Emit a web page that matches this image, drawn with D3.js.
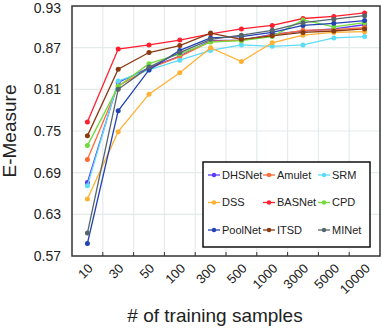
<!DOCTYPE html>
<html>
<head>
<meta charset="utf-8">
<script src="https://cdn.jsdelivr.net/npm/d3@7"></script>
<style>
  body { margin: 0; background: #fff; }
  text { font-family: "Liberation Sans", Arial, sans-serif; fill: #222; }
</style>
</head>
<body>
<div id="chart"></div>
<script>
// data
const samples = ["10", "30", "50", "100", "300", "500", "1000", "3000", "5000", "10000"]
const yTicks = [0.57, 0.63, 0.69, 0.75, 0.81, 0.87, 0.93]
const methods = ["DHSNet", "Amulet", "SRM", "DSS", "BASNet", "CPD", "PoolNet", "ITSD", "MINet"]
const colors = ["#5a3cf5", "#ff6a35", "#5cdcf8", "#ffb133", "#ff1f2e", "#6fdc3a", "#2442b4", "#8a3a12", "#55666d"]

const DHSNet  = [0.676, 0.820, 0.841, 0.858, 0.880, 0.881, 0.889, 0.894, 0.897, 0.903]
const Amulet  = [0.709, 0.815, 0.840, 0.857, 0.879, 0.881, 0.888, 0.895, 0.896, 0.899]
const SRM     = [0.671, 0.822, 0.838, 0.852, 0.866, 0.874, 0.872, 0.874, 0.884, 0.886]
const DSS     = [0.652, 0.749, 0.803, 0.834, 0.870, 0.850, 0.877, 0.888, 0.892, 0.893]
const BASNet  = [0.763, 0.868, 0.874, 0.881, 0.890, 0.897, 0.902, 0.912, 0.915, 0.920]
const CPD     = [0.729, 0.814, 0.847, 0.861, 0.878, 0.880, 0.886, 0.910, 0.900, 0.906]
const PoolNet = [0.588, 0.779, 0.838, 0.866, 0.884, 0.886, 0.892, 0.902, 0.905, 0.909]
const ITSD    = [0.743, 0.839, 0.863, 0.873, 0.891, 0.882, 0.887, 0.892, 0.894, 0.897]
const MINet   = [0.603, 0.810, 0.842, 0.863, 0.882, 0.888, 0.895, 0.906, 0.911, 0.916]
const series = [DHSNet, Amulet, SRM, DSS, BASNet, CPD, PoolNet, ITSD, MINet]

const W = 382, H = 332
const plot = { left: 72, right: 380, top: 6, bottom: 256 }

const svg = d3.select("#chart").append("svg")
  .attr("width", W).attr("height", H)

const x = d3.scaleBand().domain(samples).range([plot.left, plot.right]).padding(0)
const y = d3.scaleLinear().domain([0.57, 0.93]).range([plot.bottom, plot.top])
const cx = d => x(d) + x.bandwidth() / 2

// grid
svg.append("g").selectAll("line")
  .data(yTicks.slice(1, -1))
  .enter().append("line")
    .attr("x1", plot.left).attr("x2", plot.right)
    .attr("y1", d => y(d)).attr("y2", d => y(d))
    .style("stroke", "#e4ebeb").style("stroke-width", 1.2)

svg.append("g").selectAll("line")
  .data(samples.slice(1))
  .enter().append("line")
    .attr("x1", d => x(d)).attr("x2", d => x(d))
    .attr("y1", plot.top).attr("y2", plot.bottom)
    .style("stroke", "#e4ebeb").style("stroke-width", 1.2)

// x ticks (inside, at band edges)
svg.append("g").selectAll("line")
  .data(samples.slice(1))
  .enter().append("line")
    .attr("x1", d => x(d)).attr("x2", d => x(d))
    .attr("y1", plot.bottom - 4).attr("y2", plot.bottom)
    .style("stroke", "#333").style("stroke-width", 1)

// lines + markers
const line = d3.line().x((d, i) => cx(samples[i])).y(d => y(d))
series.forEach(function(vals, k) {
  const g = svg.append("g").attr("class", "series")
  g.append("path")
    .datum(vals)
    .attr("d", line)
    .style("fill", "none")
    .style("stroke", colors[k])
    .style("stroke-width", 1.3)
  g.selectAll("circle")
    .data(vals)
    .enter().append("circle")
      .attr("cx", (d, i) => cx(samples[i]))
      .attr("cy", d => y(d))
      .attr("r", 2.5)
      .style("fill", colors[k])
})

// frame
svg.append("rect")
  .attr("x", plot.left).attr("y", plot.top)
  .attr("width", plot.right - plot.left).attr("height", plot.bottom - plot.top)
  .style("fill", "none").style("stroke", "#333").style("stroke-width", 1.5)

// y tick labels
svg.append("g").selectAll("text")
  .data(yTicks)
  .enter().append("text")
    .attr("x", 61).attr("y", d => Math.max(y(d), 7.5))
    .attr("dy", "0.36em")
    .style("text-anchor", "end")
    .style("font-size", "14px")
    .text(d => d.toFixed(2))

// x tick labels (rotated)
svg.append("g").selectAll("text")
  .data(samples)
  .enter().append("text")
    .attr("transform", d => "translate(" + (cx(d) + 3) + "," + 266 + ") rotate(-45)")
    .style("text-anchor", "end")
    .attr("dy", "0.35em")
    .style("font-size", "13px")
    .text(d => d)

// axis titles
svg.append("text")
  .attr("transform", "translate(16," + ((plot.top + plot.bottom) / 2) + ") rotate(-90)")
  .style("text-anchor", "middle")
  .style("font-size", "19px")
  .text("E-Measure")

svg.append("text")
  .attr("x", 215).attr("y", 322)
  .style("text-anchor", "middle")
  .style("font-size", "19px")
  .text("# of training samples")

// legend
const legend = svg.append("g").attr("transform", "translate(203,162)")
legend.append("rect")
  .attr("width", 167).attr("height", 85)
  .style("fill", "#fff").style("stroke", "#111").style("stroke-width", 1.5)

const item = legend.selectAll("g.item")
  .data(methods)
  .enter().append("g")
    .attr("class", "item")
    .attr("transform", (d, i) => "translate(" + (5 + (i % 3) * 55) + "," + (13 + Math.floor(i / 3) * 27.5) + ")")
item.append("line")
  .attr("x1", 0).attr("x2", 12)
  .style("stroke", (d, i) => colors[i]).style("stroke-width", 1.3)
item.append("circle")
  .attr("cx", 6).attr("r", 2.2)
  .style("fill", (d, i) => colors[i])
item.append("text")
  .attr("x", 14).attr("dy", "0.36em")
  .style("font-size", "11px")
  .text(d => d)
</script>
</body>
</html>
